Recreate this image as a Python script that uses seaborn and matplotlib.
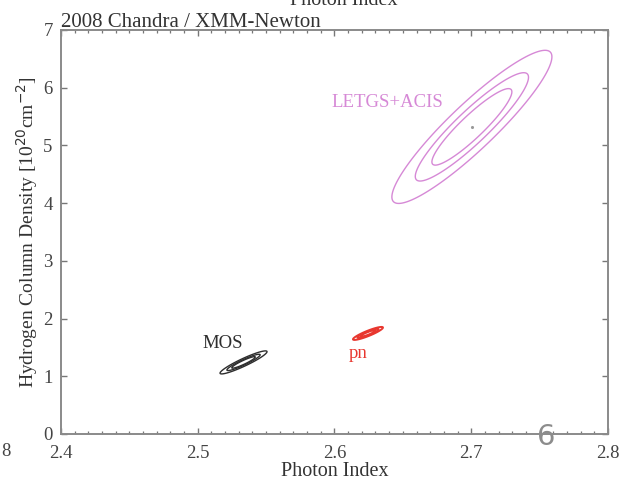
import numpy as np
import pandas as pd
import matplotlib
matplotlib.use("Agg")
import matplotlib.pyplot as plt
from matplotlib.ticker import MultipleLocator
import seaborn as sns

# Best-fit photon index / column density with 1-sigma errors and correlation
fits = ["MOS", "pn", "LETGS+ACIS"]
gamma_best = [2.5335, 2.6245, 2.7005]
nh_best = [1.24, 1.742, 5.32]
gamma_sigma = [0.00566, 0.00361, 0.01928]
nh_sigma = [0.0657, 0.0371, 0.437]
rho = [0.93, 0.90, 0.915]
colors = ["#2e2e2e", "#e8372f", "#d689d6"]
line_widths = [1.0, 1.4, 1.0]

# Delta chi^2 levels for 68%, 90%, 99% confidence (2 parameters)
dchi2_levels = [2.30, 4.61, 9.21]

# Label placement
label_gamma = [2.5185, 2.617, 2.6384]
label_nh = [1.56, 1.40, 5.74]

x_ticks = [2.4, 2.5, 2.6, 2.7, 2.8]
y_ticks = [0, 1, 2, 3, 4, 5, 6, 7]

sns.set_theme(style="ticks")
plt.rcParams["font.family"] = ["Liberation Serif", "DejaVu Serif"]

fig = plt.figure(figsize=(6.3, 4.82), dpi=100)
ax = fig.add_axes([0.0968, 0.0996, 0.965 - 0.0968, 0.938 - 0.0996])

best = pd.DataFrame({"fit": fits, "gamma": gamma_best, "nh": nh_best})

for i, name in enumerate(fits):
    g0, n0 = gamma_best[i], nh_best[i]
    sg, sn, r = gamma_sigma[i], nh_sigma[i], rho[i]
    gg = np.linspace(g0 - 4.5 * sg, g0 + 4.5 * sg, 500)
    nn = np.linspace(n0 - 4.5 * sn, n0 + 4.5 * sn, 500)
    G, N = np.meshgrid(gg, nn)
    dx = (G - g0) / sg
    dy = (N - n0) / sn
    dchi2 = (dx ** 2 - 2 * r * dx * dy + dy ** 2) / (1 - r ** 2)
    ax.contour(G, N, dchi2, levels=dchi2_levels, colors=colors[i],
               linewidths=line_widths[i])
    ax.text(label_gamma[i], label_nh[i], name, color=colors[i],
            fontsize=13.5, ha="center", va="center")

sns.scatterplot(data=best.iloc[[2]], x="gamma", y="nh", ax=ax, color="#999999",
                s=5, linewidth=0, legend=False, zorder=5)

ax.set_xlim(2.4, 2.8)
ax.set_ylim(0, 7)
ax.set_xticks(x_ticks)
ax.set_yticks(y_ticks)
ax.xaxis.set_minor_locator(MultipleLocator(0.01))
ax.tick_params(axis="both", which="both", direction="in", top=True, right=True,
               colors="#777777", labelcolor="#444444", labelsize=13.5)
ax.tick_params(axis="both", which="major", length=4, width=1.0)
ax.tick_params(axis="x", which="minor", length=2.5, width=0.9)
ax.tick_params(axis="x", pad=8)
ax.tick_params(axis="y", pad=6)
for sp in ax.spines.values():
    sp.set_color("#8a8a8a")
    sp.set_linewidth(1.4)

ax.set_xlabel("Photon Index", fontsize=14.5, color="#333333", labelpad=0)
ax.set_ylabel(r"Hydrogen Column Density [10$^{20}$cm$^{-2}$]", fontsize=14,
              color="#333333", labelpad=2)
ax.text(0.0, 1 + 3 / 404, "2008 Chandra / XMM-Newton", transform=ax.transAxes,
        fontsize=15, color="#333333", ha="left", va="baseline")

# Neighbouring page elements
fig.text(344 / 630, 1 - 5 / 482, "Photon Index", fontsize=14.5, color="#333333",
         ha="center", va="baseline")
fig.text(11 / 630, 1 - 452 / 482, "8", fontsize=13.5, color="#444444",
         ha="right", va="center")
fig.text(546 / 630, 1 - 437 / 482, "6", fontsize=21, color="#8c8c8c",
         ha="center", va="center", family="DejaVu Sans")

fig.savefig("out.png", dpi=100, facecolor="white")
